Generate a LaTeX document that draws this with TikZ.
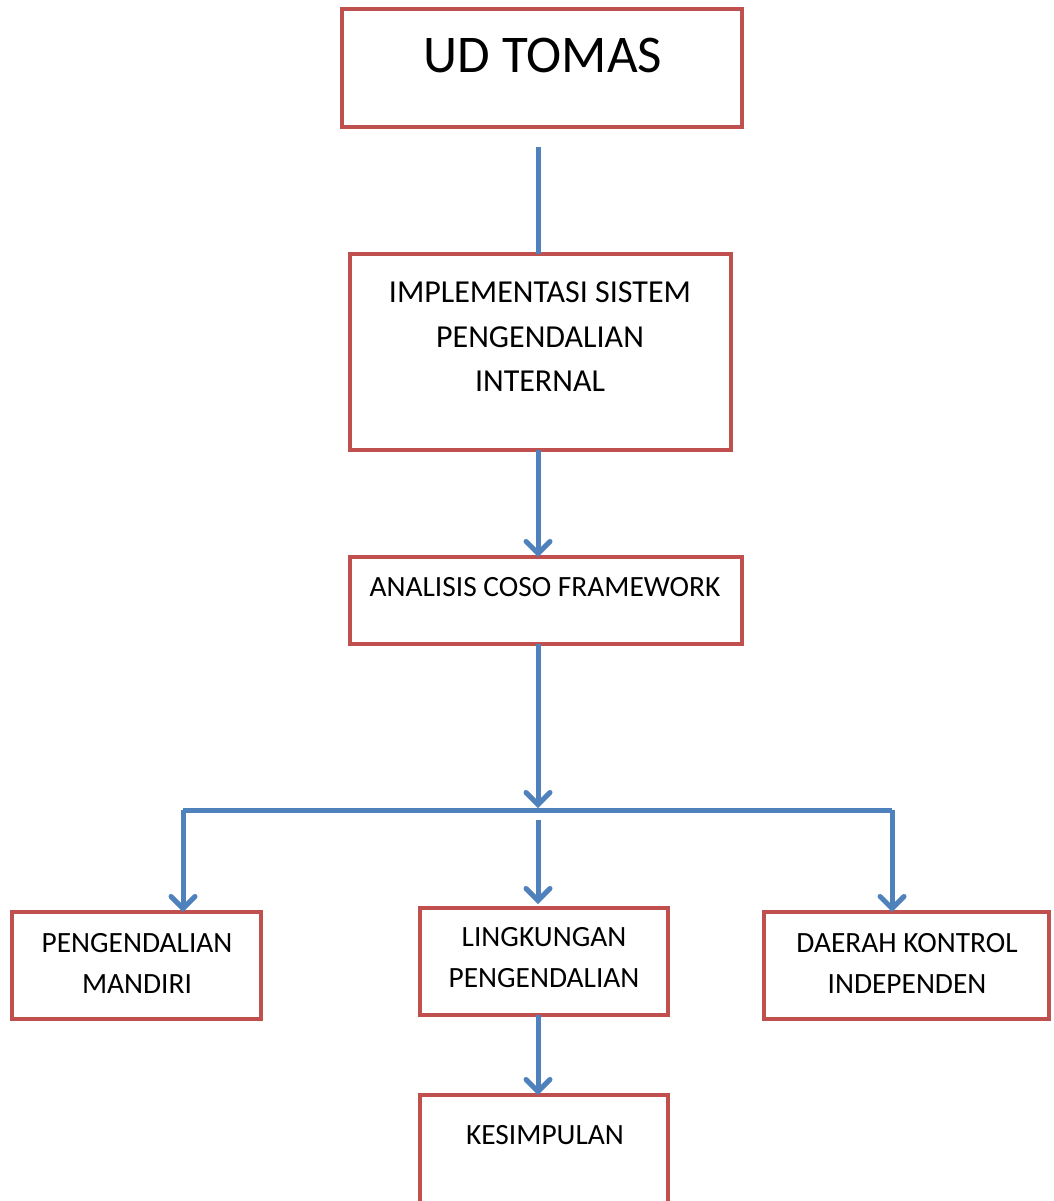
\documentclass[tikz,border=0pt]{standalone}
\usepackage{fontspec}
\setmainfont{Carlito}
\usetikzlibrary{arrows.meta,calc}
\definecolor{boxred}{HTML}{C0504D}
\definecolor{linkblue}{HTML}{4F81BD}
\begin{document}
\begin{tikzpicture}[x=1pt,y=-1pt,
  box/.style={draw=boxred, line width=4.5pt, rectangle, inner sep=0pt, outer sep=0pt, anchor=north west},
  txt/.style={font=\fontsize{29.4}{41}\selectfont, align=center, inner sep=0pt},
  link/.style={draw=linkblue, line width=5pt},
  arr/.style={link, -{Straight Barb[length=12pt,width=24pt,line cap=round]}}]
\useasboundingbox (0,0) rectangle (1053,1201);
\clip (0,0) rectangle (1053,1201);
% boxes
\node[box, minimum width=400pt, minimum height=118pt] (top) at (342,9) {};
\node[box, minimum width=381pt, minimum height=196pt] (impl) at (350,254) {};
\node[box, minimum width=392pt, minimum height=87pt] (ana) at (350,557) {};
\node[box, minimum width=249pt, minimum height=107pt] (left) at (12,912) {};
\node[box, minimum width=248pt, minimum height=107pt] (mid) at (420,908) {};
\node[box, minimum width=285pt, minimum height=107pt] (right) at (764,912) {};
\node[box, minimum width=248pt, minimum height=140pt] (kes) at (420,1095) {};
% texts
\node[txt, font=\fontsize{53}{60}\selectfont] (ttop) at (543,55) {UD TOMAS};
\node[txt, font=\fontsize{32}{44.5}\selectfont] (timpl) at (540,337) {IMPLEMENTASI SISTEM\\PENGENDALIAN\\INTERNAL};
\node[txt] (tana) at (545,587) {ANALISIS COSO FRAMEWORK};
\node[txt] (tleft) at (137,963) {PENGENDALIAN\\MANDIRI};
\node[txt] (tmid) at (544,958) {LINGKUNGAN\\PENGENDALIAN};
\node[txt] (tright) at (907,963) {DAERAH KONTROL\\INDEPENDEN};
\node[txt] (tkes) at (545,1135) {KESIMPULAN};
% connectors
\coordinate (c0) at (538,147);
\coordinate (j) at (538,808);
\coordinate (hl) at (183,810);
\coordinate (hr) at (892,810);
\coordinate (m0) at (538,820);
\draw[link] (c0) -- (c0 |- impl.north);
\draw[arr] (c0 |- impl.south) -- (c0 |- ana.north);
\draw[arr] (c0 |- ana.south) -- (j);
\draw[link] (hl) -- (hr);
\draw[arr] (hl) -- (hl |- left.north);
\draw[arr] (m0) -- ($(m0 |- mid.north)+(0,-4)$);
\draw[arr] (hr) -- (hr |- right.north);
\draw[arr] (c0 |- mid.south) -- (c0 |- kes.north);
\end{tikzpicture}
\end{document}
